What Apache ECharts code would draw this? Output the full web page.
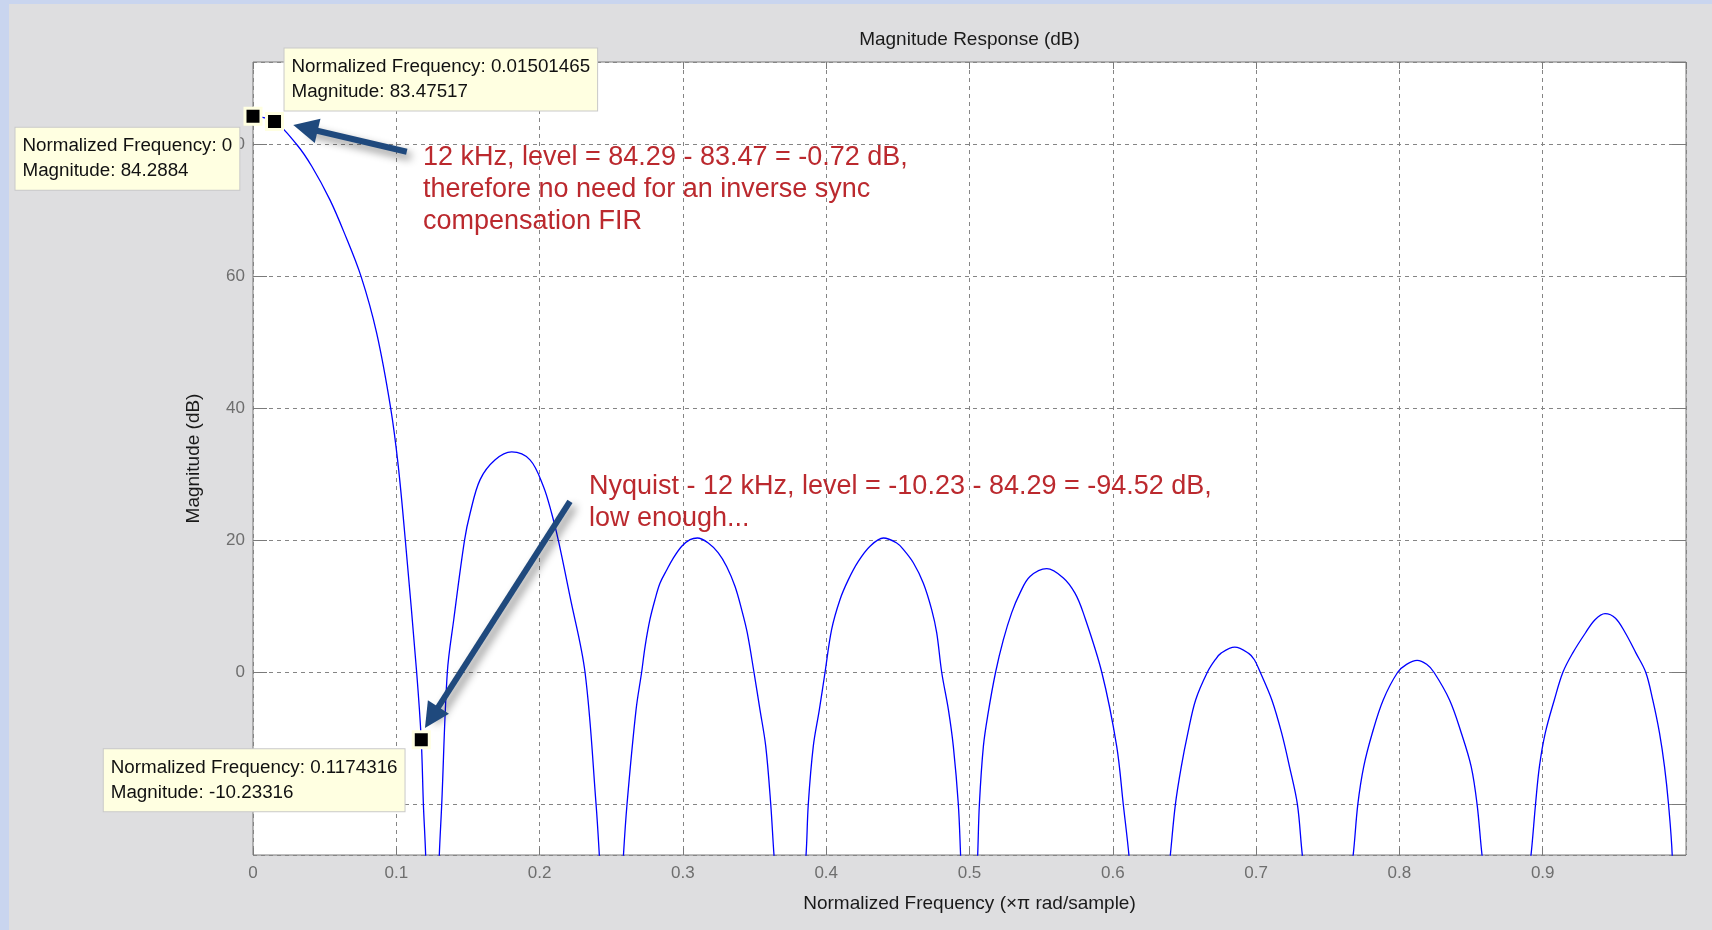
<!DOCTYPE html>
<html>
<head>
<meta charset="utf-8">
<title>Magnitude Response (dB)</title>
<script src="https://cdn.jsdelivr.net/npm/echarts@6/dist/echarts.min.js"></script>
<style>
  html, body { margin: 0; padding: 0; width: 1712px; height: 930px; background: #c9d5ef; overflow: hidden; }
  #mag-resp { position: absolute; left: 9px; top: 4px; width: 1703px; height: 926px; }
</style>
</head>
<body>
<div id="mag-resp"></div>
<script>
// normalized frequency (x pi rad/sample), one row per lobe
const freq = [
  0, 0.0150, 0.0305, 0.041, 0.0537, 0.0637, 0.0754, 0.0863, 0.0961, 0.1014, 0.1063, 0.1142, 0.1174, 0.1189, 0.1205, 0.125,
  0.130, 0.1317, 0.1356, 0.1401, 0.1476, 0.1515, 0.1585, 0.1690, 0.1805, 0.1933, 0.2026, 0.2084, 0.2131, 0.2212, 0.2317, 0.2394, 0.2417, 0.250,
  0.2585, 0.261, 0.2673, 0.2712, 0.2736, 0.2770, 0.2805, 0.2840, 0.2887, 0.2933, 0.2992, 0.3050, 0.3101, 0.3177, 0.3247, 0.3306, 0.3364, 0.3410, 0.3449, 0.3496, 0.3538, 0.3578, 0.3613, 0.3636, 0.375,
  0.3859, 0.3875, 0.391, 0.3952, 0.3992, 0.4038, 0.4096, 0.4154, 0.4224, 0.4306, 0.4399, 0.4492, 0.4539, 0.4608, 0.4678, 0.4736, 0.4771, 0.4806, 0.4853, 0.4887, 0.4922, 0.4938, 0.500,
  0.5057, 0.5069, 0.5097, 0.5130, 0.5182, 0.5236, 0.5294, 0.5352, 0.5422, 0.5539, 0.5655, 0.5736, 0.5794, 0.5923, 0.6027, 0.6073, 0.6113, 0.625,
  0.6401, 0.6437, 0.6478, 0.6524, 0.6578, 0.666, 0.6715, 0.6756, 0.6851, 0.6946, 0.6988, 0.7029, 0.711, 0.7178, 0.7233, 0.7288, 0.7323, 0.750,
  0.7677, 0.771, 0.7751, 0.7811, 0.7887, 0.7988, 0.805, 0.8124, 0.819, 0.8241, 0.835, 0.8432, 0.8501, 0.8542, 0.8577, 0.875,
  0.8918, 0.895, 0.8977, 0.9018, 0.9081, 0.9141, 0.9209, 0.9298, 0.9365, 0.9435, 0.9508, 0.9577, 0.9651, 0.9719, 0.9768, 0.9815, 0.985, 0.9878, 0.9904, 0.995
];
// magnitude in dB, same rows
const magDb = [
  84.29, 83.48, 80.0, 76.7, 71.6, 66.6, 60.0, 51.4, 40.0, 31.2, 20.0, 0.0, -10.2, -20.0, -27.8, -60,
  -27.8, -20, 0, 8.0, 20, 24.1, 29.2, 32.2, 33.4, 32.2, 28.2, 24.1, 20, 11.5, 0, -20, -27.8, -60,
  -27.8, -20, -5.7, 0, 3.9, 8.0, 11.0, 13.5, 15.5, 17.3, 19.1, 20.1, 20.35, 19.6, 18.1, 16.0, 13.0, 9.5, 6.0, 0, -5.7, -11.2, -20, -27.8, -60,
  -27.8, -20, -11.2, -5.7, 0, 6.5, 11.0, 14.0, 16.8, 19.1, 20.35, 19.6, 18.6, 16.6, 13.5, 9.5, 6.0, 0, -5.7, -11.2, -20, -27.8, -60,
  -27.8, -20, -11.2, -6.2, 0, 4.9, 9.0, 12.0, 14.5, 15.7, 14.3, 12.0, 9.0, 0, -11.2, -20, -27.8, -60,
  -27.8, -20, -14.3, -9.2, -4.2, 0, 1.9, 2.9, 3.8, 2.9, 1.9, 0, -4.2, -9.2, -14.3, -20, -27.8, -60,
  -27.8, -20, -14.3, -9.2, -4.2, 0, 1.2, 1.8, 1.2, 0, -4.2, -9.2, -14.3, -20, -27.8, -60,
  -27.8, -20, -14.3, -9.2, -4.2, 0, 2.9, 5.95, 7.97, 8.9, 8.2, 5.95, 2.9, 0, -4.2, -9.2, -14.3, -20, -27.8, -60
];

// data tips
const tipFreq = [0, 0.01501465, 0.1174316];
const tipMag = [84.2884, 83.47517, -10.23316];

const yMin = -27.7;
const yMax = 92.5;

const FONT = '"Liberation Sans", Arial, sans-serif';

// where each data tip box sits relative to its marker
const tipLabelPos = [
  [-228, 21],
  [19.5, -63.5],
  [-308, 19]
];

const curve = freq.map((f, i) => [f, magDb[i]]);
const tips = tipFreq.map((f, i) => ({
  value: [f, tipMag[i]],
  label: { position: tipLabelPos[i] }
}));

const option = {
  backgroundColor: '#dedee0',
  animation: false,
  grid: {
    left: 244, top: 58, right: 26, bottom: 75,
    show: true, backgroundColor: '#ffffff', borderColor: '#7a7a7a', borderWidth: 1
  },
  xAxis: [
    {
      type: 'value', min: 0, max: 1, interval: 0.1, position: 'bottom',
      axisLine: { show: false, onZero: false },
      axisTick: { inside: true, length: 7, lineStyle: { color: '#7a7a7a' } },
      axisLabel: { color: '#6e6e6e', fontSize: 17, fontFamily: FONT, margin: 10, showMaxLabel: false },
      splitLine: { show: true, lineStyle: { color: '#858585', type: [4, 4], width: 1 } },
      name: 'Normalized Frequency (×π rad/sample)',
      nameLocation: 'middle', nameGap: 39,
      nameTextStyle: { color: '#1a1a1a', fontSize: 19, fontFamily: FONT }
    },
    {
      type: 'value', min: 0, max: 1, interval: 0.1, position: 'top',
      axisLine: { show: false, onZero: false },
      axisTick: { inside: true, length: 7, lineStyle: { color: '#7a7a7a' } },
      axisLabel: { show: false },
      splitLine: { show: false }
    }
  ],
  yAxis: [
    {
      type: 'value', min: yMin, max: yMax, position: 'left',
      axisLine: { show: false, onZero: false },
      axisTick: { inside: true, length: 14, lineStyle: { color: '#7a7a7a' } },
      axisLabel: { color: '#6e6e6e', fontSize: 17, fontFamily: FONT, margin: 8, showMinLabel: false, showMaxLabel: false },
      splitLine: { show: true, lineStyle: { color: '#858585', type: [4, 4], width: 1 } },
      name: 'Magnitude (dB)',
      nameLocation: 'middle', nameGap: 50,
      nameTextStyle: { color: '#1a1a1a', fontSize: 19, fontFamily: FONT }
    },
    {
      type: 'value', min: yMin, max: yMax, position: 'right',
      axisLine: { show: false, onZero: false },
      axisTick: { inside: true, length: 14, lineStyle: { color: '#7a7a7a' } },
      axisLabel: { show: false },
      splitLine: { show: false }
    }
  ],
  graphic: [
    {
      type: 'text', x: 960.5, y: 36, z: 10,
      style: {
        text: 'Magnitude Response (dB)', font: '19px ' + FONT, fill: '#1a1a1a',
        align: 'center', verticalAlign: 'middle', textAlign: 'center', textVerticalAlign: 'middle'
      }
    },
    {
      type: 'text', left: 414, top: 138, z: 10,
      style: {
        text: '12 kHz, level = 84.29 - 83.47 = -0.72 dB,\ntherefore no need for an inverse sync\ncompensation FIR',
        font: '27px ' + FONT, fill: '#bb292e', lineHeight: 32
      }
    },
    {
      type: 'text', left: 580, top: 467, z: 10,
      style: {
        text: 'Nyquist - 12 kHz, level = -10.23 - 84.29 = -94.52 dB,\nlow enough...',
        font: '27px ' + FONT, fill: '#bb292e', lineHeight: 32
      }
    }
  ],
  series: [
    {
      name: 'Magnitude',
      type: 'line',
      data: curve,
      showSymbol: false,
      smooth: 0.35,
      clip: true,
      lineStyle: { color: '#0000ff', width: 1.3 },
      z: 3
    },
    {
      name: 'Data tips',
      type: 'scatter',
      data: tips,
      clip: false,
      zlevel: 1,
      symbol: 'rect',
      symbolSize: 16,
      itemStyle: { color: '#000000', borderColor: '#ffffe1', borderWidth: 3, opacity: 1 },
      label: {
        show: true,
        formatter: p => 'Normalized Frequency: ' + p.value[0] + '\nMagnitude: ' + p.value[1],
        fontFamily: FONT, fontSize: 18.8, lineHeight: 25, color: '#111111', opacity: 1,
        backgroundColor: '#ffffe1', borderColor: '#c9c9c9', borderWidth: 1,
        padding: [6, 7, 6, 7], align: 'left', verticalAlign: 'top'
      },
      emphasis: { disabled: true },
      markLine: {
        silent: true,
        symbol: ['none', 'triangle'],
        symbolSize: 25,
        label: { show: false },
        lineStyle: {
          color: '#1f497d', width: 6, type: 'solid', opacity: 1,
          shadowColor: 'rgba(0,0,0,0.45)', shadowBlur: 8, shadowOffsetX: 4, shadowOffsetY: 5
        },
        data: [
          [{ coord: [0.1073, 78.9] }, { coord: [0.0366, 82.5] }],
          [{ coord: [0.2212, 25.9] }, { coord: [0.1247, -6.85] }]
        ]
      },
      z: 5
    }
  ]
};

const myChart = echarts.init(document.getElementById('mag-resp'), null, { renderer: 'canvas' });
myChart.setOption(option);
</script>
</body>
</html>
